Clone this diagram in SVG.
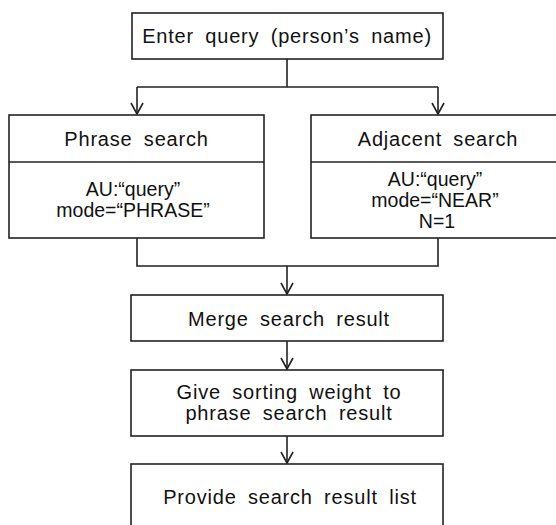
<svg xmlns="http://www.w3.org/2000/svg" width="556" height="525" viewBox="0 0 556 525">
<style>
.box{fill:#fff;stroke:#222;stroke-width:1.6}
.ln{fill:none;stroke:#222;stroke-width:1.6}
.t{font-family:"Liberation Sans",Arial,sans-serif;font-size:20px;fill:#111;text-anchor:middle;letter-spacing:0.8px;word-spacing:5px}
.b{font-family:"Liberation Sans",Arial,sans-serif;font-size:19.5px;fill:#111;text-anchor:middle}
</style>
<defs>
<marker id="arr" viewBox="0 0 14 14" refX="12" refY="7" markerWidth="14" markerHeight="14" markerUnits="userSpaceOnUse" orient="auto">
<path d="M1,1 L12,7 L1,13" fill="none" stroke="#222" stroke-width="1.6"/>
</marker>
</defs>
<rect width="556" height="525" fill="#fff"/>
<g id="connectors">
<path class="ln" d="M287,59 V87 M137,87 H438"/>
<path class="ln" d="M137,87 V114" marker-end="url(#arr)"/>
<path class="ln" d="M438,87 V114" marker-end="url(#arr)"/>
<path class="ln" d="M137,238 V266 H438 V238"/>
<path class="ln" d="M287,266 V294" marker-end="url(#arr)"/>
<path class="ln" d="M287,341 V369" marker-end="url(#arr)"/>
<path class="ln" d="M287,436 V463" marker-end="url(#arr)"/>
</g>
<g id="enter">
<rect class="box" x="132" y="13" width="311" height="46"/>
<text class="t" x="287" y="43">Enter query (person’s name)</text>
</g>
<g id="phrase">
<rect class="box" x="9" y="115" width="255" height="123"/>
<line class="ln" x1="9" y1="162" x2="264" y2="162"/>
<text class="t" x="136.5" y="146">Phrase search</text>
<text class="b" x="133" y="196">AU:“query”</text>
<text class="b" x="133" y="217">mode=“PHRASE”</text>
</g>
<g id="adjacent">
<rect class="box" x="311" y="115" width="260" height="123"/>
<line class="ln" x1="311" y1="162" x2="571" y2="162"/>
<text class="t" x="438" y="146">Adjacent search</text>
<text class="b" x="435" y="186">AU:“query”</text>
<text class="b" x="435" y="207">mode=“NEAR”</text>
<text class="b" x="437" y="228">N=1</text>
</g>
<g id="merge">
<rect class="box" x="131" y="295" width="312" height="46"/>
<text class="t" x="289" y="326">Merge search result</text>
</g>
<g id="weight">
<rect class="box" x="131" y="370" width="312" height="66"/>
<text class="t" x="289" y="399">Give sorting weight to</text>
<text class="t" x="289" y="420">phrase search result</text>
</g>
<g id="provide">
<rect class="box" x="131" y="464" width="312" height="80"/>
<text class="t" x="290" y="504">Provide search result list</text>
</g>
</svg>
